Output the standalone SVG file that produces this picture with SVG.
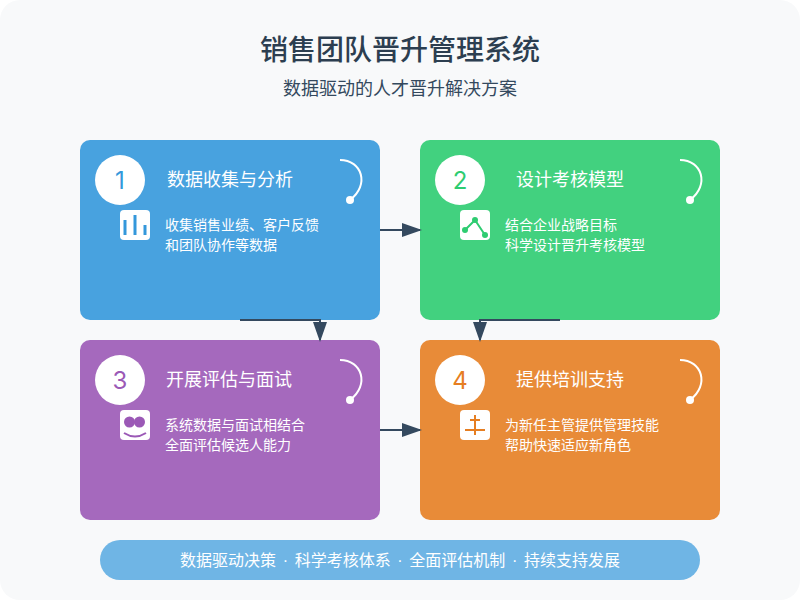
<svg xmlns="http://www.w3.org/2000/svg" width="800" height="600" viewBox="0 0 800 600">
<style>
text{font-family:"Noto Sans CJK SC",sans-serif}
.t{font-size:18px;fill:#fff;text-anchor:middle}
.d{font-size:14px;fill:#fff}
text.n{font-family:Inter,sans-serif;font-size:24px;text-anchor:middle}
.c{opacity:.9}
.s{fill:none;stroke:#fff;stroke-width:2}
.l{fill:none;stroke:#34495e;stroke-width:2;marker-end:url(#a)}
</style>
<defs>
<marker id="a" markerWidth="10" markerHeight="7" refX="9" refY="3.5" orient="auto"><polygon points="0 0,10 3.5,0 7" fill="#34495e"/></marker>
</defs>
<rect width="800" height="600" rx="20" fill="#f8f9fa"/>
<text x="400" y="60" font-size="28" font-weight="500" fill="#2c3e50" text-anchor="middle">销售团队晋升管理系统</text>
<text x="400" y="95" font-size="18" fill="#34495e" text-anchor="middle">数据驱动的人才晋升解决方案</text>
<g id="node1">
<rect class="c" x="80" y="140" width="300" height="180" rx="10" fill="#3498db"/>
<circle cx="120" cy="180" r="25" fill="#fff"/>
<text class="n" x="120" y="188.500" fill="#3498db">1</text>
<text class="t" x="230" y="185.500">数据收集与分析</text>
<path class="s" d="M340 160C362 160 370 185 350 200"/><circle cx="350" cy="200" r="4" fill="#fff"/>
<rect x="120" y="210" width="30" height="30" rx="4" fill="#fff"/>
<rect x="123.500" y="220" width="3" height="15" fill="#3498db"/><rect x="133.500" y="215" width="3" height="20" fill="#3498db"/><rect x="143.500" y="225" width="3" height="10" fill="#3498db"/>
<text class="d" x="165" y="230">收集销售业绩、客户反馈</text>
<text class="d" x="165" y="250">和团队协作等数据</text>
</g>
<g id="node2">
<rect class="c" x="420" y="140" width="300" height="180" rx="10" fill="#2ecc71"/>
<circle cx="460" cy="180" r="25" fill="#fff"/>
<text class="n" x="460" y="188.500" fill="#2ecc71">2</text>
<text class="t" x="570" y="185.500">设计考核模型</text>
<path class="s" d="M680 160C702 160 710 185 690 200"/><circle cx="690" cy="200" r="4" fill="#fff"/>
<rect x="460" y="210" width="30" height="30" rx="4" fill="#fff"/>
<path d="M465 230L475 220L485 235" fill="none" stroke="#2ecc71" stroke-width="2"/>
<circle cx="465" cy="230" r="3" fill="#2ecc71"/><circle cx="475" cy="220" r="3" fill="#2ecc71"/><circle cx="485" cy="235" r="3" fill="#2ecc71"/>
<text class="d" x="505" y="230">结合企业战略目标</text>
<text class="d" x="505" y="250">科学设计晋升考核模型</text>
</g>
<g id="node3">
<rect class="c" x="80" y="340" width="300" height="180" rx="10" fill="#9b59b6"/>
<circle cx="120" cy="380" r="25" fill="#fff"/>
<text class="n" x="120" y="388.500" fill="#9b59b6">3</text>
<text class="t" x="229" y="385.500">开展评估与面试</text>
<path class="s" d="M340 360C362 360 370 385 350 400"/><circle cx="350" cy="400" r="4" fill="#fff"/>
<rect x="120" y="410" width="30" height="30" rx="4" fill="#fff"/>
<circle cx="129.500" cy="422" r="5.500" fill="#9b59b6"/><circle cx="139.500" cy="422" r="5.500" fill="#9b59b6"/>
<path d="M124 433Q135 440 146 433" fill="none" stroke="#9b59b6" stroke-width="2"/>
<text class="d" x="165" y="430">系统数据与面试相结合</text>
<text class="d" x="165" y="450">全面评估候选人能力</text>
</g>
<g id="node4">
<rect class="c" x="420" y="340" width="300" height="180" rx="10" fill="#e67e22"/>
<circle cx="460" cy="380" r="25" fill="#fff"/>
<text class="n" x="460" y="388.500" fill="#e67e22">4</text>
<text class="t" x="570" y="385.500">提供培训支持</text>
<path class="s" d="M680 360C702 360 710 385 690 400"/><circle cx="690" cy="400" r="4" fill="#fff"/>
<rect x="460" y="410" width="30" height="30" rx="4" fill="#fff"/>
<path d="M475 415V435M470 420H480M465 430H485" fill="none" stroke="#e67e22" stroke-width="2"/>
<text class="d" x="505" y="430">为新任主管提供管理技能</text>
<text class="d" x="505" y="450">帮助快速适应新角色</text>
</g>
<g id="connectors">
<path class="l" d="M380 230H420"/>
<path class="l" d="M240 320H320V340"/>
<path class="l" d="M560 320H480V340"/>
<path class="l" d="M380 430H420"/>
</g>
<g id="footer">
<rect x="100" y="540" width="600" height="40" rx="20" fill="#3498db" opacity=".7"/>
<text x="400" y="565.500" font-size="16" fill="#fff" text-anchor="middle" word-spacing="2.2" style="font-family:'Liberation Sans','Noto Sans CJK SC',sans-serif">数据驱动决策 · 科学考核体系 · 全面评估机制 · 持续支持发展</text>
</g>
</svg>
